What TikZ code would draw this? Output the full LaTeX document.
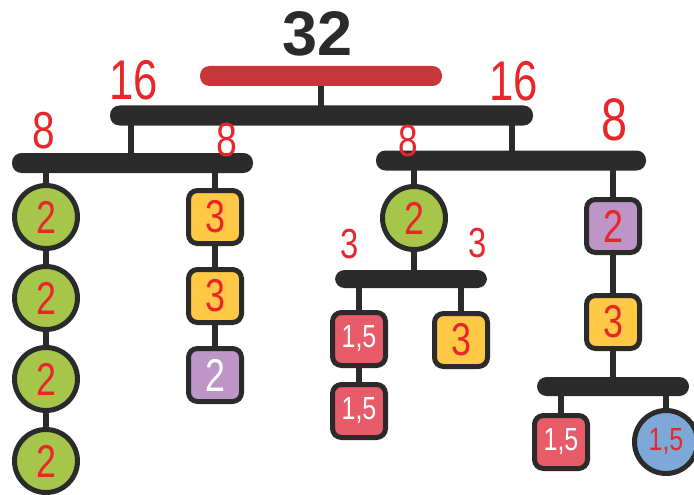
\documentclass[tikz,border=0pt]{standalone}
\usepackage{fontspec}
\setmainfont{Liberation Sans}
\newfontfamily\handfont[FakeStretch=0.78]{Liberation Sans}
\usetikzlibrary{positioning}
\definecolor{ink}{HTML}{2B2B2B}
\definecolor{barred}{HTML}{C8353A}
\definecolor{hand}{HTML}{E8262B}
\definecolor{leaf}{HTML}{A5C64A}
\definecolor{sun}{HTML}{FFC845}
\definecolor{plum}{HTML}{BD95C7}
\definecolor{rose}{HTML}{E85C6A}
\definecolor{sky}{HTML}{7EA8D8}
\newcommand{\fs}[1]{\fontsize{#1}{#1}\handfont}

\begin{document}
\begin{tikzpicture}[
    x=1pt, y=-1pt,
    bar/.style={fill=ink, rounded corners=9.5pt, minimum height=20pt, inner sep=0pt},
    stem/.style={draw=ink, line width=6pt},
    ball/.style={circle, draw=ink, line width=5pt, minimum size=63pt, inner sep=0pt,
        font=\fs{46}, text=hand},
    tile/.style={rectangle, rounded corners=9pt, draw=ink, line width=5pt, minimum size=53pt,
        inner sep=0pt, font=\fs{46}, text=hand},
    half/.style={font=\fs{32}},
    tag/.style={text=hand, inner sep=0pt}
    ]
    \useasboundingbox (0,0) rectangle (694,495);

    % bars
    \node[bar, fill=barred, minimum width=242pt] (top) at (321,76) {};
    \node[bar, minimum width=423pt] (b16) at (321.5,115.5) {};
    \node[bar, minimum width=241pt] (b8l) at (132.5,163) {};
    \node[bar, minimum width=270pt] (b8r) at (511,160.5) {};
    \node[bar, minimum width=152pt, minimum height=18pt] (b3) at (411,279) {};
    \node[bar, minimum width=152pt, minimum height=19pt] (b4) at (613,386.5) {};
    \coordinate (j16l) at (131,115.5);
    \coordinate (j16r) at (512,115.5);

    % sums
    \node[text=ink, font=\fontsize{63}{63}\selectfont\bfseries, inner sep=0pt] (total) at (318,33.5) {32};
    \node[tag, font=\fs{56}] (t16l) at (134,80) {16};
    \node[tag, font=\fs{56}] (t16r) at (514,81) {16};
    \node[tag, font=\fs{52}] (t8a) at (44,131) {8};
    \node[tag, font=\fs{48}] (t8b) at (227,140) {8};
    \node[tag, font=\fs{45}] (t8c) at (408,141) {8};
    \node[tag, font=\fs{60}] (t8d) at (615,120) {8};
    \node[tag, font=\fs{42}] (t3a) at (350,244) {3};
    \node[tag, font=\fs{42}] (t3b) at (478,243) {3};

    % left branch
    \node[ball, fill=leaf] (g1) at (46,217) {2};
    \node[ball, fill=leaf] (g2) at (46,298) {2};
    \node[ball, fill=leaf] (g3) at (46,379) {2};
    \node[ball, fill=leaf] (g4) at (46,461) {2};
    \node[tile, fill=sun] (y1) at (215,217) {3};
    \node[tile, fill=sun] (y2) at (215,296) {3};
    \node[tile, fill=plum, text=white] (p1) at (215,375) {2};

    % right branch
    \node[ball, fill=leaf] (g5) at (414,218) {2};
    \node[tile, fill=rose, text=white, half] (r1) at (359,339) {1,5};
    \node[tile, fill=rose, text=white, half] (r2) at (359,411) {1,5};
    \node[tile, fill=sun] (y3) at (461,340) {3};
    \node[tile, fill=plum] (p2) at (613,226) {2};
    \node[tile, fill=sun] (y4) at (613,322) {3};
    \node[tile, fill=rose, text=white, half] (r3) at (561,442) {1,5};
    \node[ball, fill=sky, half] (c1) at (666,442) {1,5};

    % stems
    \draw[stem] (top) -- (top |- b16);
    \draw[stem] (j16l) -- (j16l |- b8l);
    \draw[stem] (j16r) -- (j16r |- b8r);
    \draw[stem] (g1) -- (g1 |- b8l);
    \draw[stem] (g1) -- (g2);
    \draw[stem] (g2) -- (g3);
    \draw[stem] (g3) -- (g4);
    \draw[stem] (y1) -- (y1 |- b8l);
    \draw[stem] (y1) -- (y2);
    \draw[stem] (y2) -- (p1);
    \draw[stem] (g5) -- (g5 |- b8r);
    \draw[stem] (g5) -- (g5 |- b3);
    \draw[stem] (r1) -- (r1 |- b3);
    \draw[stem] (r1) -- (r2);
    \draw[stem] (y3) -- (y3 |- b3);
    \draw[stem] (p2) -- (p2 |- b8r);
    \draw[stem] (p2) -- (y4);
    \draw[stem] (y4) -- (y4 |- b4);
    \draw[stem] (r3) -- (r3 |- b4);
    \draw[stem] (c1) -- (c1 |- b4);
\end{tikzpicture}
\end{document}
